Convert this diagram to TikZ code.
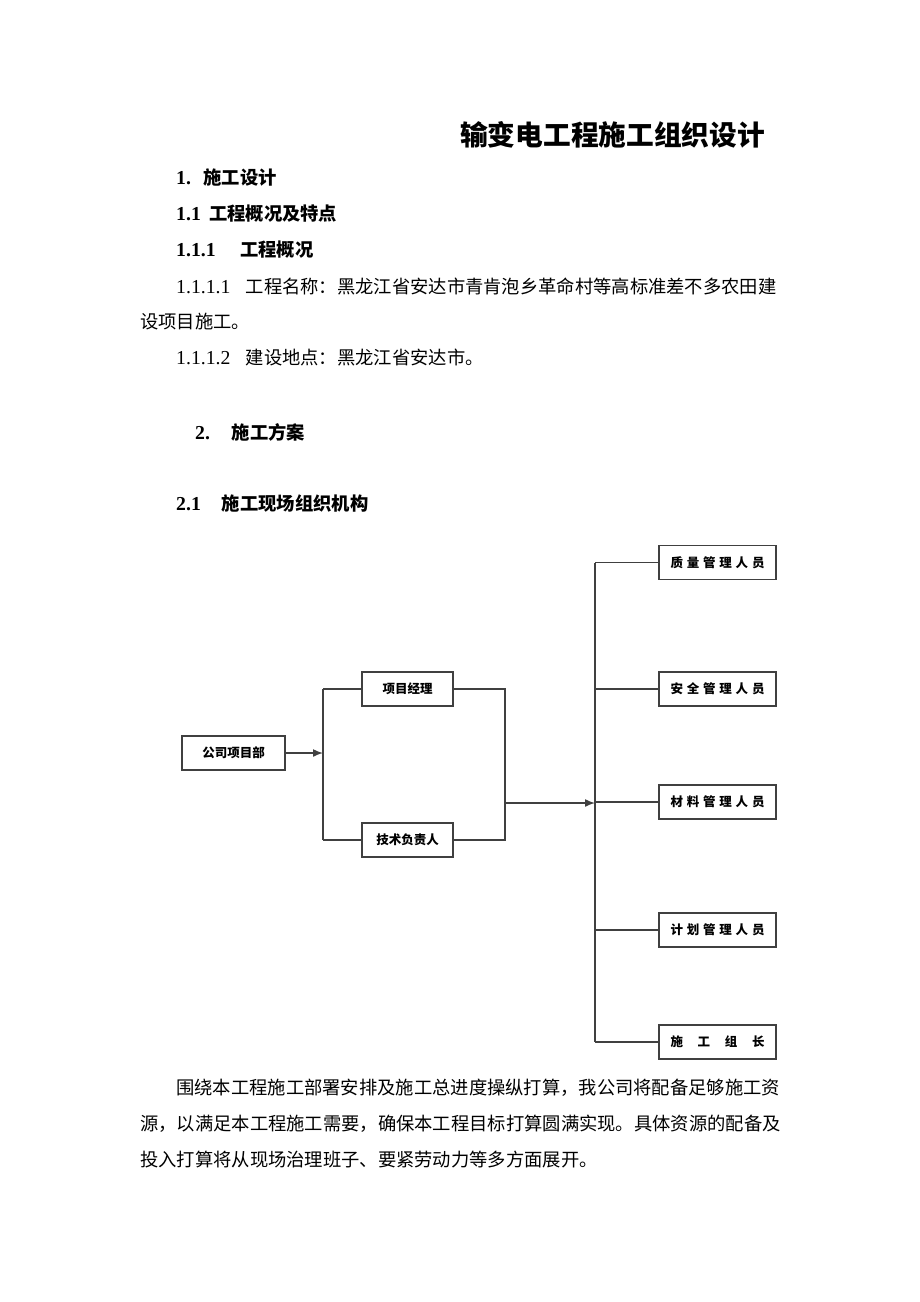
\documentclass[tikz,border=0pt]{standalone}
\usepackage{fontspec}
\setmainfont{Noto Sans CJK SC}
\newfontfamily\numfont[Scale=1.08]{Liberation Serif}
\usetikzlibrary{arrows.meta}
\newcommand\secno[2]{\makebox[#1][l]{\numfont #2}}
\newcommand\rolename[1]{\makebox[94pt]{#1}}
\tikzset{
  textline/.style={anchor=west,inner sep=0pt,font=\fontsize{18.3}{22}\selectfont},
  headline/.style={textline,font=\fontsize{18.3}{22}\selectfont\bfseries},
  orgbox/.style={draw=black!75,line width=1.6pt,fill=white,minimum height=34pt,inner sep=0pt,font=\fontsize{12.5}{14}\selectfont\bfseries},
  link/.style={draw=black!75,line width=1.5pt},
  flow/.style={link,-{Latex[length=10pt,width=8pt]}}
}

\begin{document}
\begin{tikzpicture}[x=1pt,y=-1pt]
\useasboundingbox (0,0) rectangle (920,1302);
\fill[white] (0,0) rectangle (920,1302);

% page text
\node[anchor=west,inner sep=0pt,font=\fontsize{27.7}{32}\selectfont\bfseries] (title) at (460,135) {输变电工程施工组织设计};
\node[headline] (sec1) at (176,178) {\secno{1.5em}{1.}施工设计};
\node[headline] (sec11) at (176,214) {\secno{1.8em}{1.1}工程概况及特点};
\node[headline] (sec111) at (176,250) {\secno{3.5em}{1.1.1}工程概况};
\node[textline] (name) at (176,286) {\secno{3.8em}{1.1.1.1}工程名称：黑龙江省安达市青肯泡乡革命村等高标准差不多农田建};
\node[textline] (name2) at (140,322) {设项目施工。};
\node[textline] (site) at (176,358) {\secno{3.8em}{1.1.1.2}建设地点：黑龙江省安达市。};
\node[headline] (sec2) at (195,432) {\secno{2em}{2.}施工方案};
\node[headline] (sec21) at (176,504) {\secno{2.5em}{2.1}施工现场组织机构};
\node[textline] (para1) at (176,1088) {围绕本工程施工部署安排及施工总进度操纵打算，我公司将配备足够施工资};
\node[textline] (para2) at (140,1124) {源，以满足本工程施工需要，确保本工程目标打算圆满实现。具体资源的配备及};
\node[textline] (para3) at (140,1160) {投入打算将从现场治理班子、要紧劳动力等多方面展开。};

% organisation chart
\node[orgbox,minimum width=103pt] (dept) at (233.5,753) {公司项目部};
\node[orgbox,minimum width=91pt] (pm) at (407.5,689) {项目经理};
\node[orgbox,minimum width=91pt] (tech) at (407.5,840) {技术负责人};
\coordinate (lbus) at (323,753);
\coordinate (rbus) at (505,803);
\coordinate (hub) at (595,803);

\foreach \n/\y/\t in {qual/562.5/{质\hfill 量\hfill 管\hfill 理\hfill 人\hfill 员},
                      safe/689/{安\hfill 全\hfill 管\hfill 理\hfill 人\hfill 员},
                      mat/802/{材\hfill 料\hfill 管\hfill 理\hfill 人\hfill 员},
                      plan/930/{计\hfill 划\hfill 管\hfill 理\hfill 人\hfill 员},
                      lead/1042/{施\hfill 工\hfill 组\hfill 长}}
  \node[orgbox,minimum width=117pt] (\n) at (717.5,\y) {\rolename{\t}};

\draw[flow] (dept) -- (lbus);
\draw[link] (lbus |- pm) -- (lbus |- tech);
\draw[link] (lbus |- pm) -- (pm);
\draw[link] (lbus |- tech) -- (tech);
\draw[link] (pm) -- (pm -| rbus) -- (tech -| rbus) -- (tech);
\draw[flow] (rbus) -- (hub);
\draw[link] (hub |- qual) -- (hub |- lead);
\foreach \n in {qual,safe,mat,plan,lead}
  \draw[link] (hub |- \n) -- (\n);
\end{tikzpicture}
\end{document}
